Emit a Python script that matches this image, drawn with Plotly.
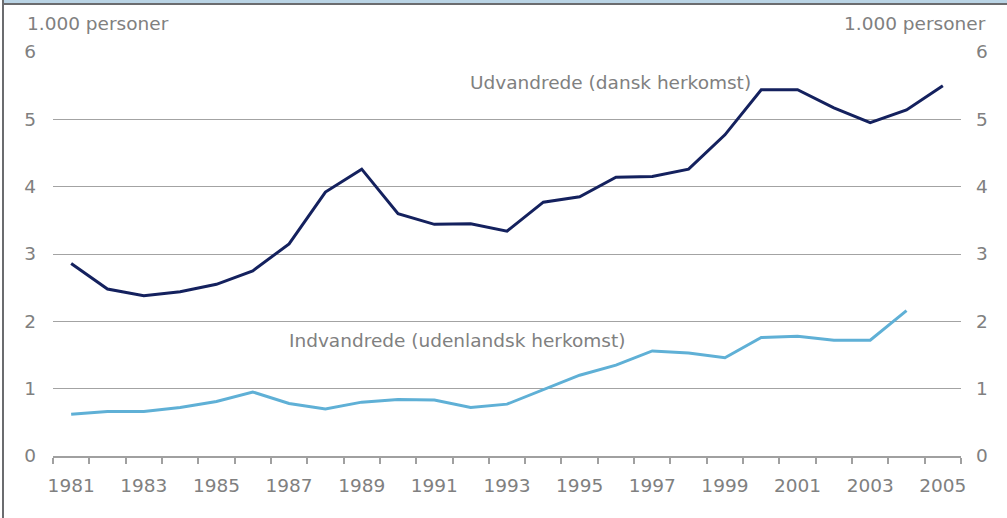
import plotly.graph_objects as go

years = [str(y) for y in range(1981, 2006)]
udvandrede = [2.86, 2.48, 2.38, 2.44, 2.55, 2.75, 3.15, 3.92, 4.26, 3.60,
              3.44, 3.45, 3.34, 3.77, 3.85, 4.14, 4.15, 4.26, 4.77, 5.44,
              5.44, 5.17, 4.95, 5.14, 5.50]
indvandrede = [0.62, 0.66, 0.66, 0.72, 0.81, 0.95, 0.78, 0.70, 0.80, 0.84,
               0.83, 0.72, 0.77, 0.98, 1.20, 1.35, 1.56, 1.53, 1.46, 1.76,
               1.78, 1.72, 1.72, 2.16, None]
year_labels = [y if int(y) % 2 == 1 else "" for y in years]
y_ticks = [0, 1, 2, 3, 4, 5, 6]

W, H = 1007, 518
L, R, T, B = 53, 46, 52, 62
PW, PH = W - L - R, H - T - B

def px(x):
    return (x - L) / PW

def py(y):
    return (H - B - y) / PH

GREY = "#808080"
FONT = "DejaVu Sans"
FS = 18.5

fig = go.Figure()
fig.add_trace(go.Scatter(x=years, y=indvandrede, mode="lines",
                         line=dict(color="#5fb0d6", width=3),
                         name="Indvandrede (udenlandsk herkomst)"))
fig.add_trace(go.Scatter(x=years, y=udvandrede, mode="lines", yaxis="y2",
                         line=dict(color="#14215e", width=3),
                         name="Udvandrede (dansk herkomst)"))

fig.update_layout(
    width=W, height=H,
    margin=dict(l=L, r=R, t=T, b=B, pad=0),
    paper_bgcolor="white", plot_bgcolor="white",
    showlegend=False,
    font=dict(family=FONT, size=FS, color=GREY),
    xaxis=dict(type="category", categoryorder="array", categoryarray=years,
               range=[-0.5, len(years) - 0.5],
               tickmode="array", tickvals=years, ticktext=year_labels,
               tickson="boundaries", ticks="outside", ticklen=6,
               tickcolor="#a0a0a0", tickwidth=1.5,
               showline=True, linecolor="#a0a0a0", linewidth=1.5,
               showgrid=False, zeroline=False, ticklabelstandoff=12,
               tickangle=0,
               tickfont=dict(family=FONT, size=FS, color=GREY)),
    yaxis=dict(range=[0, 6], tickmode="array", tickvals=y_ticks,
               showgrid=True, gridcolor="#a3a3a3", gridwidth=1.3,
               zeroline=False, showline=False, ticks="",
               ticklabelstandoff=16,
               tickfont=dict(family=FONT, size=FS, color=GREY)),
    yaxis2=dict(range=[0, 6], tickmode="array", tickvals=y_ticks,
                overlaying="y", side="right", showgrid=False,
                zeroline=False, showline=False, ticks="",
                ticklabelstandoff=14,
                tickfont=dict(family=FONT, size=FS, color=GREY)),
)

annots = [
    dict(text="1.000 personer", x=px(25), y=py(24), xanchor="left"),
    dict(text="1.000 personer", x=px(988), y=py(24), xanchor="right"),
    dict(text="Udvandrede (dansk herkomst)", x=px(468), y=py(83), xanchor="left"),
    dict(text="Indvandrede (udenlandsk herkomst)", x=px(287), y=py(340), xanchor="left"),
]
for a in annots:
    fig.add_annotation(xref="paper", yref="paper", yanchor="middle",
                       showarrow=False, font=dict(family=FONT, size=FS, color=GREY),
                       **a)

# frame: light blue band on top, dark grey lines top and left
fig.add_shape(type="rect", xref="paper", yref="paper",
              x0=px(3), x1=px(W), y0=py(0), y1=py(3.3),
              fillcolor="#bad4e5", line=dict(width=0), layer="above")
fig.add_shape(type="line", xref="paper", yref="paper",
              x0=px(2), x1=px(W), y0=py(4), y1=py(4),
              line=dict(color="#6b6c6f", width=2), layer="above")
fig.add_shape(type="line", xref="paper", yref="paper",
              x0=px(3), x1=px(3), y0=py(0), y1=py(H),
              line=dict(color="#6b6c6f", width=2), layer="above")

fig.write_html("out.html",
               config={"displayModeBar": False},
               post_script="document.body.style.margin='0';document.body.style.padding='0';")
